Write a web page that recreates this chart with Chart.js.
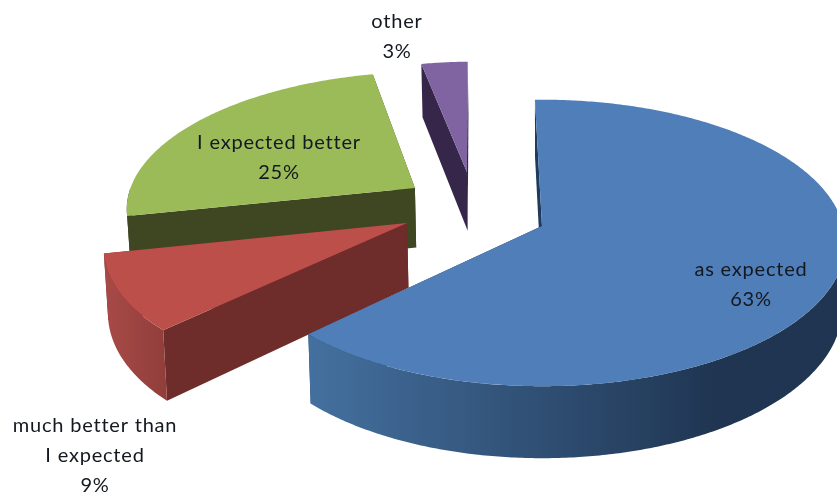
<!DOCTYPE html>
<html>
<head>
<meta charset="utf-8">
<title>Pie 3D</title>
<script src="https://cdn.jsdelivr.net/npm/chart.js@4/dist/chart.umd.min.js"></script>
<style>
  html, body { margin: 0; padding: 0; background: #fff; }
  #wrap { width: 837px; height: 498px; overflow: hidden; }
  #pie { display: block; filter: blur(0.5px); }
</style>
</head>
<body>
<div id="wrap"><canvas id="pie" width="837" height="498"></canvas></div>
<script>
// Data
const categories = ['as expected', 'much better than I expected', 'I expected better', 'other'];
const shares = [63, 9, 25, 3];
const labelLines = [['as expected'], ['much better than', 'I expected'], ['I expected better'], ['other']];

// Look of the slices
const topColors = ['#4F7EB9', '#BD4F4B', '#9BBB59', '#8064A2'];
const wallColors = ['#1F3A5C', '#6E2C2A', '#3F4722', '#35264A'];
const sliceApex = [[0, 0], [-0.442, 0.021], [-0.429, 0.274], [-0.257, 0.394]];
const sliceRadius = [0.985, 0.98, 0.96, 0.935];
const sliceDepth = [63.5, 65, 61.6, 61.6];
const labelPos = [[751, 270], [95, 426], [279, 143], [397, 22]];

// Projection of the pie plane onto the page
const origin = { x: 542, y: 226 };
const persp = { fx: 306, fy: 143.4, p: 0.12 };

function project(u, v) {
    const w = 1 + persp.p * v;
    return { x: origin.x + u * persp.fx / w, y: origin.y - v * persp.fy / w, w };
}

function lower(pt, depth) {
    return { x: origin.x + (pt.x - origin.x) * 0.99, y: pt.y + depth / pt.w };
}

function fillPoly(ctx, pts, fill) {
    ctx.beginPath();
    pts.forEach((p, i) => (i ? ctx.lineTo(p.x, p.y) : ctx.moveTo(p.x, p.y)));
    ctx.closePath();
    ctx.fillStyle = fill;
    ctx.fill();
}

function rimGradient(ctx, index) {
    if (index === 0) {
        const g = ctx.createLinearGradient(310, 0, 720, 0);
        g.addColorStop(0, '#44709F');
        g.addColorStop(1, '#1F3551');
        return g;
    }
    if (index === 1) {
        const g = ctx.createLinearGradient(105, 0, 165, 0);
        g.addColorStop(0, '#A84A47');
        g.addColorStop(1, '#913E3B');
        return g;
    }
    return wallColors[index];
}

const pie3d = {
    id: 'pie3d',
    beforeDatasetsDraw(chart) {
        const ctx = chart.ctx;
        const arcs = chart.getDatasetMeta(0).data;

        // Back slices first, blue last
        for (let i = arcs.length - 1; i >= 0; i--) {
            const el = arcs[i];
            const [cu, cv] = sliceApex[i];
            const r = sliceRadius[i];
            const d = sliceDepth[i];
            const at = a => project(cu + r * Math.cos(a), cv - r * Math.sin(a));
            const centre = project(cu, cv);

            // Side faces, farthest one first
            const ends = [el.startAngle, el.endAngle].sort((a, b) => Math.sin(a) - Math.sin(b));
            ends.forEach(a => {
                const p = at(a);
                fillPoly(ctx, [centre, p, lower(p, d), lower(centre, d)], wallColors[i]);
            });

            // Rim, only the part that faces us
            const from = Math.max(el.startAngle, 0);
            const to = Math.min(el.endAngle, Math.PI);
            if (to > from) {
                const up = [];
                for (let a = from; a < to; a += 0.01) up.push(at(a));
                up.push(at(to));
                fillPoly(ctx, up.concat(up.map(p => lower(p, d)).reverse()), rimGradient(ctx, i));
            }

            // Top face
            const face = [centre];
            for (let a = el.startAngle; a < el.endAngle; a += 0.01) face.push(at(a));
            face.push(at(el.endAngle));
            fillPoly(ctx, face, topColors[i]);
        }

        // Labels
        ctx.font = '20px Lato, "Noto Sans", sans-serif';
        ctx.letterSpacing = '0.8px';
        ctx.fillStyle = '#14181f';
        ctx.textAlign = 'center';
        ctx.textBaseline = 'middle';
        labelLines.forEach((lines, i) => {
            const rows = lines.concat(shares[i] + '%');
            rows.forEach((row, r) => ctx.fillText(row, labelPos[i][0], labelPos[i][1] + r * 30));
        });
        return false;
    }
};

new Chart(document.getElementById('pie'), {
    type: 'pie',
    data: {
        labels: categories,
        datasets: [{ data: shares, backgroundColor: topColors, borderWidth: 0 }]
    },
    options: {
        responsive: false,
        animation: false,
        rotation: -1.5,
        plugins: { legend: { display: false }, tooltip: { enabled: false } }
    },
    plugins: [pie3d]
});
</script>
</body>
</html>
